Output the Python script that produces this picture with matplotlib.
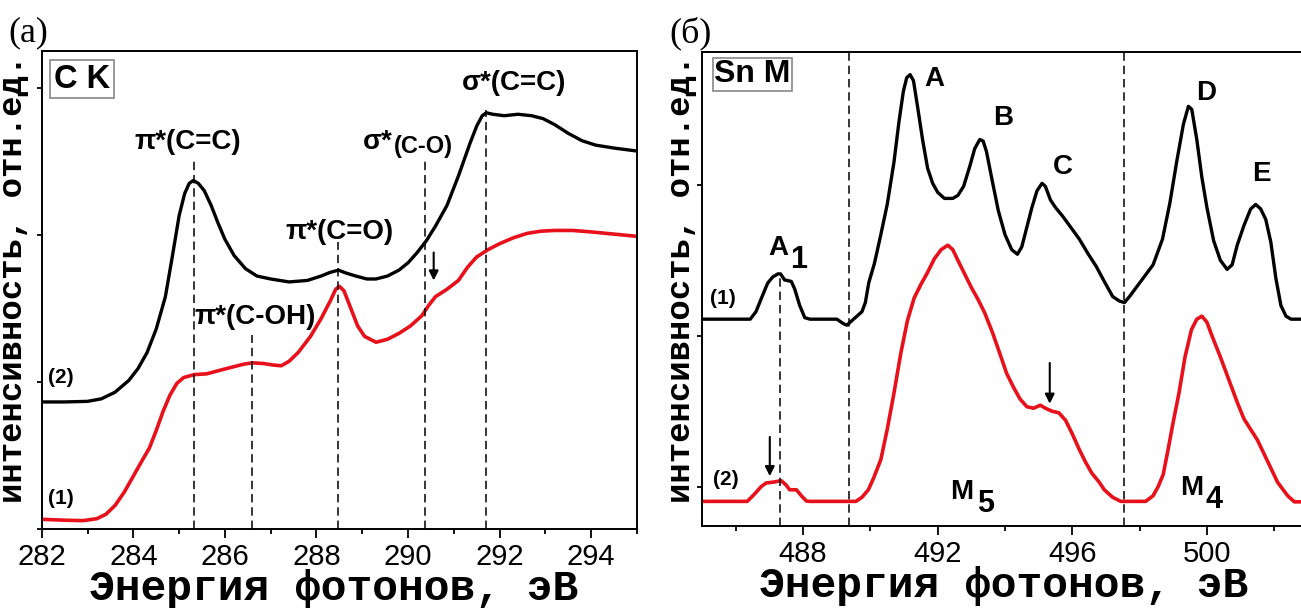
import matplotlib
matplotlib.use('Agg')
import matplotlib.pyplot as plt
from matplotlib.ticker import MultipleLocator, NullFormatter

# ---- C K edge (panel a) ----
ck_energy_2 = [282.0, 282.5, 283.0, 283.3, 283.6, 283.9, 284.1, 284.3,
               284.5, 284.7, 284.85, 285.0, 285.12, 285.22, 285.31, 285.42,
               285.55, 285.7, 285.85, 286.0, 286.2, 286.45, 286.7, 287.0,
               287.4, 287.8, 288.1, 288.3, 288.48, 288.65, 288.86, 289.1,
               289.3, 289.55, 289.8, 290.0, 290.2, 290.4, 290.6, 290.85,
               291.1, 291.35, 291.5, 291.62, 291.71, 291.85, 292.1, 292.4,
               292.7, 292.95, 293.2, 293.5, 293.8, 294.1, 294.5, 295.0]
ck_int_2 = [0.864, 0.864, 0.868, 0.885, 0.93, 1.01, 1.09, 1.20,
            1.36, 1.58, 1.85, 2.13, 2.28, 2.35, 2.37, 2.35,
            2.30, 2.20, 2.08, 1.97, 1.86, 1.77, 1.72, 1.70,
            1.68, 1.69, 1.72, 1.745, 1.76, 1.74, 1.72, 1.70,
            1.70, 1.72, 1.76, 1.81, 1.88, 1.96, 2.06, 2.20,
            2.40, 2.62, 2.74, 2.81, 2.83, 2.82, 2.81, 2.82,
            2.81, 2.79, 2.75, 2.69, 2.64, 2.61, 2.59, 2.57]

ck_energy_1 = [282.0, 282.5, 282.9, 283.2, 283.4, 283.6, 283.8, 284.0,
               284.2, 284.35, 284.5, 284.65, 284.8, 284.95, 285.1, 285.33,
               285.6, 285.9, 286.15, 286.4, 286.6, 286.85, 287.05, 287.23,
               287.4, 287.6, 287.87, 288.1, 288.3, 288.42, 288.5, 288.6,
               288.75, 288.9, 289.05, 289.3, 289.55, 289.8, 290.05, 290.3,
               290.45, 290.6, 290.85, 291.1, 291.3, 291.5, 291.75, 292.0,
               292.3, 292.6, 292.9, 293.2, 293.6, 294.0, 294.5, 295.0]
ck_int_1 = [0.066, 0.06, 0.057, 0.07, 0.10, 0.16, 0.25, 0.36,
            0.47, 0.55, 0.67, 0.80, 0.91, 0.99, 1.03, 1.05,
            1.055, 1.08, 1.10, 1.12, 1.13, 1.125, 1.115, 1.11,
            1.14, 1.20, 1.31, 1.43, 1.55, 1.63, 1.65, 1.62,
            1.50, 1.38, 1.31, 1.27, 1.29, 1.33, 1.38, 1.45,
            1.52, 1.58, 1.63, 1.69, 1.78, 1.85, 1.90, 1.94,
            1.98, 2.01, 2.025, 2.03, 2.03, 2.02, 2.005, 1.99]

ck_marks = [285.33, 286.59, 288.48, 290.36, 291.71]
ck_mark_tops = [2.51, 1.32, 1.95, 2.50, 2.85]

# ---- Sn M edge (panel б) ----
sn_energy_1 = [485.0, 486.43, 486.6, 486.8, 486.95, 487.1, 487.25, 487.33,
               487.45, 487.65, 487.75, 487.9, 488.05, 488.2, 489.0, 489.2,
               489.3, 489.45, 489.6, 489.75, 489.85, 489.95, 490.12, 490.3,
               490.5, 490.7, 490.85, 490.98, 491.08, 491.18, 491.28, 491.4,
               491.55, 491.7, 491.85, 492.0, 492.2, 492.45, 492.6, 492.77,
               492.95, 493.1, 493.25, 493.35, 493.45, 493.6, 493.8, 494.0,
               494.2, 494.37, 494.5, 494.65, 494.8, 494.95, 495.1, 495.2,
               495.35, 495.5, 495.72, 495.95, 496.21, 496.45, 496.71, 496.95,
               497.2, 497.4, 497.55, 497.7, 497.9, 498.1, 498.4, 498.68,
               498.9, 499.1, 499.3, 499.45, 499.55, 499.7, 499.85, 500.0,
               500.2, 500.4, 500.6, 500.75, 500.9, 501.1, 501.3, 501.45,
               501.6, 501.75, 501.9, 502.05, 502.2, 502.35, 502.5, 503.5]
sn_int_1 = [1.11, 1.11, 1.16, 1.27, 1.35, 1.39, 1.41, 1.41,
            1.37, 1.36, 1.31, 1.20, 1.12, 1.11, 1.11, 1.08,
            1.07, 1.10, 1.13, 1.16, 1.22, 1.35, 1.48, 1.66,
            1.87, 2.15, 2.42, 2.62, 2.71, 2.73, 2.69, 2.52,
            2.30, 2.11, 2.01, 1.95, 1.91, 1.91, 1.93, 1.99,
            2.12, 2.24, 2.30, 2.29, 2.22, 2.05, 1.83, 1.67,
            1.57, 1.54, 1.59, 1.72, 1.85, 1.96, 2.01, 1.99,
            1.90, 1.85, 1.79, 1.72, 1.64, 1.55, 1.46, 1.36,
            1.26, 1.23, 1.22, 1.26, 1.32, 1.38, 1.47, 1.64,
            1.88, 2.15, 2.40, 2.52, 2.50, 2.30, 2.05, 1.85,
            1.63, 1.50, 1.44, 1.47, 1.60, 1.73, 1.84, 1.87,
            1.84, 1.77, 1.62, 1.38, 1.20, 1.13, 1.11, 1.11]

sn_energy_2 = [485.0, 486.34, 486.55, 486.75, 486.9, 487.1, 487.35, 487.5,
               487.6, 487.8, 487.95, 488.1, 488.2, 489.57, 489.75, 489.94,
               490.1, 490.31, 490.5, 490.7, 490.9, 491.1, 491.3, 491.5,
               491.7, 491.9, 492.1, 492.3, 492.45, 492.6, 492.8, 493.0,
               493.2, 493.4, 493.63, 493.85, 494.05, 494.25, 494.45, 494.65,
               494.85, 495.05, 495.2, 495.4, 495.6, 495.8, 496.0, 496.2,
               496.4, 496.58, 496.8, 496.95, 497.2, 497.44, 498.18, 498.4,
               498.55, 498.7, 498.85, 499.0, 499.17, 499.35, 499.54, 499.7,
               499.85, 500.0, 500.15, 500.4, 500.65, 500.9, 501.1, 501.3,
               501.5, 501.8, 502.1, 502.4, 502.6, 503.5]
sn_int_2 = [-0.097, -0.097, -0.05, 0.0, 0.025, 0.03, 0.04, 0.01,
            -0.02, -0.02, -0.06, -0.095, -0.097, -0.097, -0.07, -0.02,
            0.06, 0.18, 0.38, 0.62, 0.88, 1.10, 1.25, 1.34,
            1.42, 1.51, 1.57, 1.60, 1.57, 1.50, 1.41, 1.32,
            1.24, 1.15, 1.02, 0.88, 0.75, 0.66, 0.58, 0.53,
            0.52, 0.54, 0.52, 0.50, 0.49, 0.44, 0.35, 0.25,
            0.16, 0.09, 0.03, -0.02, -0.07, -0.097, -0.097, -0.06,
            0.0, 0.08, 0.25, 0.43, 0.62, 0.86, 1.04, 1.11,
            1.13, 1.09, 1.00, 0.86, 0.71, 0.56, 0.45, 0.38,
            0.31, 0.17, 0.03, -0.06, -0.10, -0.10]

sn_edges = [489.36, 497.55]
sn_a1_mark = 487.30

SANS = 'Liberation Sans'
MONO = 'Liberation Mono'
SERIF = 'Liberation Serif'

plt.rcParams['font.family'] = [SANS, 'DejaVu Sans']
plt.rcParams['axes.linewidth'] = 1.4

fig = plt.figure(figsize=(13.01, 6.08), dpi=100)
ax1 = fig.add_axes([0.0321, 0.1299, 0.4575, 0.7862])
ax2 = fig.add_axes([0.5397, 0.1349, 0.4785, 0.7796])

red = '#e8101a'
dash = dict(color='k', lw=1.1, linestyle=(0, (5.5, 3.2)))


def style_axes(ax, xmaj, xmin):
    ax.xaxis.set_major_locator(MultipleLocator(xmaj))
    ax.xaxis.set_minor_locator(MultipleLocator(xmin))
    ax.yaxis.set_major_locator(MultipleLocator(1))
    ax.yaxis.set_major_formatter(NullFormatter())
    ax.tick_params(axis='x', which='major', direction='out', length=6.5,
                   width=1.3, labelsize=21, pad=3.5)
    ax.tick_params(axis='x', which='minor', direction='out', length=3.4,
                   width=1.3)
    ax.tick_params(axis='y', which='major', direction='out', length=3.8,
                   width=1.3)
    ax.set_xlabel('Энергия фотонов, эВ', family=MONO, weight='bold',
                  fontsize=31, va='baseline')
    ax.set_ylabel('интенсивность, отн.ед.', family=MONO, weight='bold',
                  fontsize=24.5, va='baseline')


# ---------- panel (a) ----------
ax1.plot(ck_energy_2, ck_int_2, color='k', lw=2.4, solid_joinstyle='round')
ax1.plot(ck_energy_1, ck_int_1, color=red, lw=2.6, solid_joinstyle='round')
for xm, top in zip(ck_marks, ck_mark_tops):
    ax1.plot([xm, xm], [0, top], **dash)
ax1.set_xlim(282, 295)
ax1.set_ylim(0, 3.25)
style_axes(ax1, 2, 1)
ax1.xaxis.set_label_coords(0.490, -0.1485)
ax1.yaxis.set_label_coords(-0.0335, 0.523)

lab = dict(ha='center', va='center', fontsize=20, weight='bold')
ax1.text(285.19, 2.63, 'π*(C=C)', **lab)
ax1.text(286.67, 1.44, 'π*(C-OH)', **lab)
ax1.text(288.51, 2.02, 'π*(C=O)', **lab)
ax1.text(292.31, 3.03, 'σ*(C=C)', **lab)
ax1.text(289.66, 2.63, 'σ*', ha='right', va='center', fontsize=20,
         weight='bold')
ax1.text(289.70, 2.60, '(C-O)', ha='left', va='center', fontsize=17,
         weight='bold')
ax1.text(282.41, 1.03, '(2)', ha='center', va='center', fontsize=15,
         weight='bold')
ax1.text(282.41, 0.21, '(1)', ha='center', va='center', fontsize=15,
         weight='bold')
ax1.text(0.0205, 0.9414, 'C K', transform=ax1.transAxes, ha='left',
         va='center', fontsize=23.5, weight='bold',
         bbox=dict(boxstyle='square,pad=0.12', fc='white', ec='#888888',
                   lw=1.2))
ax1.annotate('', xy=(290.56, 1.69), xytext=(290.56, 1.88),
             arrowprops=dict(arrowstyle='-|>', color='k', lw=1.5,
                             mutation_scale=14, shrinkA=0, shrinkB=0))

# ---------- panel (б) ----------
ax2.plot(sn_energy_1, sn_int_1, color='k', lw=2.4, solid_joinstyle='round')
ax2.plot(sn_energy_2, sn_int_2, color=red, lw=2.6, solid_joinstyle='round')
for xm in sn_edges:
    ax2.axvline(xm, **dash)
ax2.plot([sn_a1_mark, sn_a1_mark], [-0.26, 1.40], **dash)
ax2.set_xlim(485, 503.5)
ax2.set_ylim(-0.26, 2.88)
style_axes(ax2, 4, 2)
ax2.xaxis.set_label_coords(0.484, -0.150)
ax2.yaxis.set_label_coords(-0.0196, 0.521)

for lbl, x, y in [('A', 491.91, 2.70), ('B', 493.94, 2.44),
                  ('C', 495.72, 2.12), ('D', 499.97, 2.61),
                  ('E', 501.63, 2.07), ('A', 487.25, 1.58),
                  ('M', 492.72, -0.037), ('M', 499.54, -0.01)]:
    ax2.text(x, y, lbl, ha='center', va='center', fontsize=20,
             weight='bold')
for lbl, x, y in [('1', 487.86, 1.50), ('5', 493.43, -0.113),
                  ('4', 500.22, -0.09)]:
    ax2.text(x, y, lbl, ha='center', va='center', fontsize=22,
             weight='bold')
ax2.text(485.63, 1.25, '(1)', ha='center', va='center', fontsize=15,
         weight='bold')
ax2.text(485.69, 0.05, '(2)', ha='center', va='center', fontsize=15,
         weight='bold')
ax2.text(0.0193, 0.9525, 'Sn M', transform=ax2.transAxes, ha='left',
         va='center', fontsize=23, weight='bold',
         bbox=dict(boxstyle='square,pad=0.05', fc='white', ec='#888888',
                   lw=1.2))
for x, tail, tip in [(495.33, 0.82, 0.55), (487.01, 0.33, 0.07)]:
    ax2.annotate('', xy=(x, tip), xytext=(x, tail),
                 arrowprops=dict(arrowstyle='-|>', color='k', lw=1.5,
                                 mutation_scale=14, shrinkA=0, shrinkB=0))

fig.text(8 / 1301, 1 - 33 / 608, '(a)', family=SERIF, fontsize=26,
         ha='left', va='center')
fig.text(669 / 1301, 1 - 33 / 608, '(б)', family=SERIF, fontsize=26,
         ha='left', va='center')

fig.savefig('out.png', dpi=100)
